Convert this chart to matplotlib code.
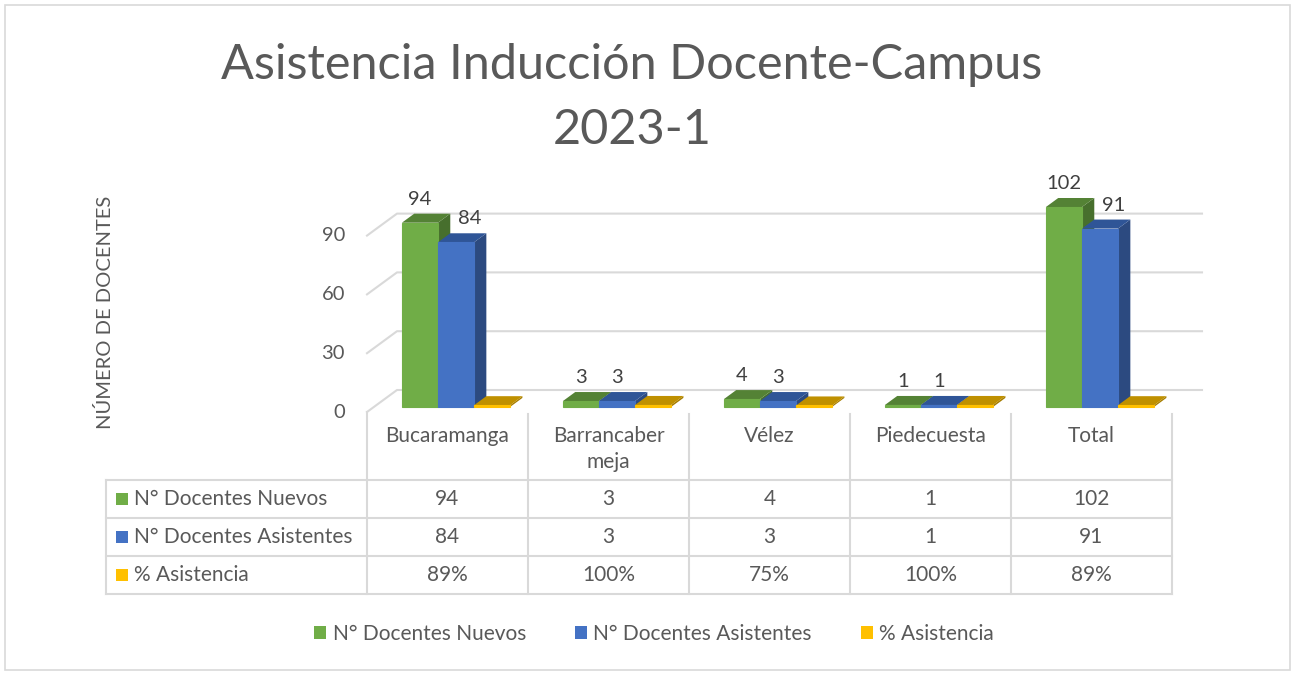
import matplotlib
matplotlib.use("Agg")
import matplotlib.pyplot as plt
from matplotlib.patches import Polygon, Patch, Rectangle
from matplotlib.lines import Line2D

# ---------------- data ----------------
categories = ["Bucaramanga", "Barrancaber\nmeja", "Vélez", "Piedecuesta", "Total"]
series_names = ["N° Docentes Nuevos", "N° Docentes Asistentes", "% Asistencia"]
nuevos = [94, 3, 4, 1, 102]
asistentes = [84, 3, 3, 1, 91]
asistencia_pct = [89, 100, 75, 100, 89]
y_ticks = [0, 30, 60, 90]
title_lines = ["Asistencia Inducción Docente-Campus", "2023-1"]
y_label = "NÚMERO DE DOCENTES"

# ---------------- style ----------------
FONT = ["Lato", "DejaVu Sans"]
plt.rcParams["font.family"] = FONT
TXT = "#595959"
GRID = "#D9D9D9"
FS = 15
front_cols = ["#70AD47", "#4472C4", "#FFC000"]
top_cols = ["#548235", "#2F5597", "#BF9000"]
side_cols = ["#476F2D", "#2C4A80", "#A67D00"]

W, H = 1297, 673
fig = plt.figure(figsize=(W / 100, H / 100), dpi=100)

def fx(px):
    return px / W

def fy(py):
    return 1 - py / H

# outer chart border
fig.add_artist(Rectangle((fx(5), fy(670)), fx(1290) - fx(5), fy(5) - fy(670),
                         transform=fig.transFigure, fill=False, ec=GRID, lw=1.2))

# plot area axes (front plane: 161 px per category, 1.96 px per unit)
PX_CAT, PX_UNIT = 161.0, 1.96
X0, Y0, XR, YT = 367, 412, 1205, 170
ax = fig.add_axes([fx(X0), fy(Y0), (XR - X0) / W, (Y0 - YT) / H])
ax.set_xlim(0, (XR - X0) / PX_CAT)
ax.set_ylim(0, (Y0 - YT) / PX_UNIT)
ax.axis("off")

DX = 30 / PX_CAT
DY = 22 / PX_UNIT

def P(x, y, d):
    return (x + DX * d, y + DY * d)

n = len(categories)
# gridlines on back wall + side wall
for v in y_ticks:
    pts = [P(0, v, 0), P(0, v, 1), P(n, v, 1)]
    ax.add_line(Line2D([p[0] for p in pts], [p[1] for p in pts], color=GRID, lw=1.5,
                       clip_on=False, zorder=1))
    ax.text(-22 / PX_CAT, v, str(v), ha="right", va="center", fontsize=FS - 0.5,
            color=TXT, clip_on=False)

# bars
values = [nuevos, asistentes, [p / 100 for p in asistencia_pct]]
OFF, BW, DF, DB = 0.174, 0.224, 0.23, 0.64
for i in range(n):
    for j, vals in enumerate(values):
        v = vals[i]
        x0 = i + OFF + j * BW
        x1 = x0 + BW
        side = [P(x1, 0, DF), P(x1, 0, DB), P(x1, v, DB), P(x1, v, DF)]
        top = [P(x0, v, DF), P(x1, v, DF), P(x1, v, DB), P(x0, v, DB)]
        front = [P(x0, 0, DF), P(x1, 0, DF), P(x1, v, DF), P(x0, v, DF)]
        ax.add_patch(Polygon(side, closed=True, fc=side_cols[j], ec="none", zorder=2 + j))
        ax.add_patch(Polygon(top, closed=True, fc=top_cols[j], ec="none", zorder=2 + j))
        ax.add_patch(Polygon(front, closed=True, fc=front_cols[j], ec=front_cols[j],
                             lw=0.8, zorder=2 + j))
        if j < 2:
            fxc, fyc = P((x0 + x1) / 2, v, DF)
            shift = 0.085 if (j == 1 and v > 20) else 0.0
            ax.text(fxc + shift, fyc + 12.0, str(v), ha="center", va="center",
                    fontsize=FS - 0.5, color="#404040", zorder=10, clip_on=False)

# title & axis label
fig.text(fx(632), fy(79), title_lines[0], ha="center", va="baseline", fontsize=35,
         color=TXT)
fig.text(fx(632), fy(144), title_lines[1], ha="center", va="baseline", fontsize=35,
         color=TXT)
fig.text(fx(105), fy(312), y_label, rotation=90, ha="center", va="center",
         fontsize=14.5, color=TXT)

# ---------------- data table ----------------
col_x = [367 + k * PX_CAT for k in range(n + 1)]
row_y = [480, 518, 556, 594]
lw_t = 1.5
def hline(y, xa, xb):
    fig.add_artist(Line2D([fx(xa), fx(xb)], [fy(y), fy(y)], color=GRID, lw=lw_t))
def vline(x, ya, yb):
    fig.add_artist(Line2D([fx(x), fx(x)], [fy(ya), fy(yb)], color=GRID, lw=lw_t))

for y in row_y:
    hline(y, 106, col_x[-1])
vline(106, 480, 594)
for k, x in enumerate(col_x):
    vline(x, 412 if k == 0 else 414, 594)

for k, c in enumerate(categories):
    fig.text(fx((col_x[k] + col_x[k + 1]) / 2), fy(426), c, ha="center", va="top",
             fontsize=FS, color=TXT, linespacing=1.35)

table_rows = [[str(v) for v in nuevos], [str(v) for v in asistentes],
              [f"{p}%" for p in asistencia_pct]]
for r in range(3):
    yc = (row_y[r] + row_y[r + 1]) / 2
    fig.add_artist(Rectangle((fx(116), fy(yc + 6)), fx(12), 12 / H,
                             transform=fig.transFigure, fc=front_cols[r], ec="none"))
    fig.text(fx(134), fy(yc), series_names[r], ha="left", va="center",
             fontsize=FS, color=TXT)
    for k in range(n):
        fig.text(fx((col_x[k] + col_x[k + 1]) / 2), fy(yc), table_rows[r][k],
                 ha="center", va="center", fontsize=FS, color=TXT)

# ---------------- legend ----------------
handles = [Patch(fc=c, ec="none") for c in front_cols]
fig.legend(handles, series_names, loc="center", bbox_to_anchor=(fx(654), fy(634)),
           ncol=3, frameon=False, fontsize=FS, labelcolor=TXT,
           handlelength=0.58, handleheight=0.58, handletextpad=0.3, columnspacing=2.35)

fig.savefig("out.png", dpi=100, facecolor="white")
